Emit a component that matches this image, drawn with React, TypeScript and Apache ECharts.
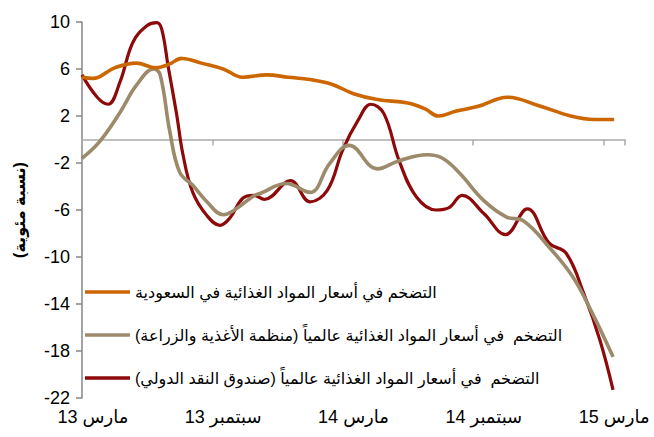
import React, { useEffect, useRef } from "react";
import * as echarts from "echarts";

// Monthly categories (March 2013 .. March 2015) – labels shown every 6 months
const categories = [
  "مارس 13", "أبريل 13", "مايو 13", "يونيو 13", "يوليو 13", "أغسطس 13",
  "سبتمبر 13", "أكتوبر 13", "نوفمبر 13", "ديسمبر 13", "يناير 14", "فبراير 14",
  "مارس 14", "أبريل 14", "مايو 14", "يونيو 14", "يوليو 14", "أغسطس 14",
  "سبتمبر 14", "أكتوبر 14", "نوفمبر 14", "ديسمبر 14", "يناير 15", "فبراير 15",
  "مارس 15",
];

const yTicks = [-22, -18, -14, -10, -6, -2, 2, 6, 10];

const seriesNames = [
  "التضخم في أسعار المواد الغذائية في السعودية",
  "التضخم  في أسعار المواد الغذائية عالمياً (منظمة الأغذية والزراعة)\u200F",
  "التضخم  في أسعار المواد الغذائية عالمياً (صندوق النقد الدولي)\u200F",
];

// [month offset from start of March 2013, % value]
const saudi: [number, number][] = [
  [0, 5.3], [0.5, 5.2], [1.5, 6.1], [2.5, 6.5], [3.4, 6.1], [4.0, 6.4], [4.6, 6.9],
  [5.5, 6.5], [6.5, 6.0], [7.4, 5.3], [8.5, 5.5], [9.5, 5.3], [10.5, 5.1],
  [11.5, 4.7], [12.5, 3.9], [13.6, 3.4], [15.0, 3.1], [15.8, 2.6], [16.4, 2.0],
  [17.2, 2.4], [18.2, 2.8], [19.6, 3.6], [21.0, 2.9], [22.5, 2.0], [23.6, 1.7],
  [24.5, 1.7],
];

const fao: [number, number][] = [
  [0, -1.6], [0.8, -0.2], [1.75, 2.3], [2.5, 4.6], [3.3, 6.0], [3.6, 5.5],
  [4.05, 0.6], [4.5, -2.8], [5.1, -3.9], [5.75, -5.3], [6.5, -6.4], [7.1, -5.9],
  [7.9, -4.8], [8.2, -4.6], [9.4, -3.75], [10.5, -4.5], [11.4, -2.05],
  [12.3, -0.5], [13.6, -2.5], [14.6, -1.8], [15.9, -1.3], [16.6, -1.6],
  [17.4, -2.9], [18.5, -5.2], [19.55, -6.6], [20.3, -6.9], [21.5, -9.15],
  [22.6, -11.7], [23.5, -14.8], [24.45, -18.5],
];

const imf: [number, number][] = [
  [0, 5.5], [0.7, 3.6], [1.2, 3.0], [1.75, 4.9], [2.35, 8.3], [3.0, 9.7],
  [3.44, 9.95], [3.67, 9.4], [3.96, 6.3], [4.36, 2.1], [4.65, -1.3], [5.1, -4.5],
  [5.74, -6.45], [6.35, -7.3], [6.8, -6.7], [7.4, -5.0], [7.9, -4.75],
  [8.4, -5.1], [9.6, -3.5], [10.5, -5.3], [11.3, -4.3], [12.0, -0.9],
  [12.7, 1.6], [13.3, 3.0], [13.9, 2.2], [14.6, -1.8], [15.4, -4.9],
  [16.3, -6.0], [16.9, -5.8], [17.5, -4.75], [18.5, -6.3], [19.5, -8.1],
  [20.5, -5.9], [21.5, -8.8], [22.3, -9.7], [23.1, -13.1], [23.85, -17.1],
  [24.45, -21.3],
];

const colors = ["#CC6600", "#9C8A6B", "#8E0A0A"];

const FONT = "'Liberation Sans', 'DejaVu Sans', Arial, sans-serif";

export default function App() {
  const ref = useRef<HTMLDivElement>(null);

  useEffect(() => {
    if (!ref.current) return;
    const chart = echarts.init(ref.current, null, { renderer: "svg" });
    const datasets = [saudi, fao, imf];
    chart.setOption({
      animation: false,
      textStyle: { fontFamily: FONT },
      grid: { left: 82, right: 29, top: 22, bottom: 39, containLabel: false },
      legend: {
        left: 85,
        top: 284,
        orient: "vertical",
        icon: "rect",
        itemWidth: 45,
        itemHeight: 3.5,
        itemGap: 27,
        padding: 0,
        textStyle: { fontSize: 16, color: "#000", fontFamily: FONT },
        data: seriesNames,
      },
      xAxis: [
        {
          type: "category",
          data: categories,
          position: "bottom",
          boundaryGap: true,
          axisLine: { show: false, onZero: false },
          axisTick: { show: false },
          axisLabel: { interval: 5, fontSize: 18, color: "#000", margin: 10, fontFamily: FONT },
          splitLine: { show: false },
        },
        {
          type: "category",
          data: categories,
          position: "bottom",
          boundaryGap: true,
          axisLine: { show: true, onZero: true, onZeroAxisIndex: 0, lineStyle: { color: "#ABABAB", width: 1.5 } },
          axisTick: { show: true, interval: 5, length: 6, lineStyle: { color: "#ABABAB", width: 1.5 } },
          axisLabel: { show: false },
          splitLine: { show: false },
        },
        {
          type: "value",
          min: 0,
          max: 25,
          show: false,
          axisLine: { onZero: false },
          splitLine: { show: false },
        },
      ],
      yAxis: [
        {
          type: "value",
          min: yTicks[0],
          max: yTicks[yTicks.length - 1],
          interval: 4,
          name: "(نسبة مئوية)",
          nameLocation: "middle",
          nameRotate: 90,
          nameGap: 55,
          nameTextStyle: { fontSize: 16, fontWeight: "bold", color: "#000", fontFamily: FONT },
          axisLine: { show: true, onZero: false, lineStyle: { color: "#868686", width: 1.5 } },
          axisTick: { show: true, length: 6, lineStyle: { color: "#868686", width: 1.5 } },
          axisLabel: { fontSize: 18, color: "#000", margin: 12, fontFamily: FONT },
          splitLine: { show: false },
        },
      ],
      series: seriesNames.map((name, i) => ({
        type: "line",
        name,
        data: datasets[i],
        xAxisIndex: 2,
        yAxisIndex: 0,
        smooth: 0.4,
        symbol: "none",
        lineStyle: { color: colors[i], width: i === 2 ? 3.2 : 3.6 },
        itemStyle: { color: colors[i] },
        z: 10 - i,
      })),
    });
    return () => chart.dispose();
  }, []);

  return (
    <div
      ref={ref}
      style={{ position: "fixed", left: 0, top: 0, width: 654, height: 437, background: "#fff" }}
    />
  );
}
